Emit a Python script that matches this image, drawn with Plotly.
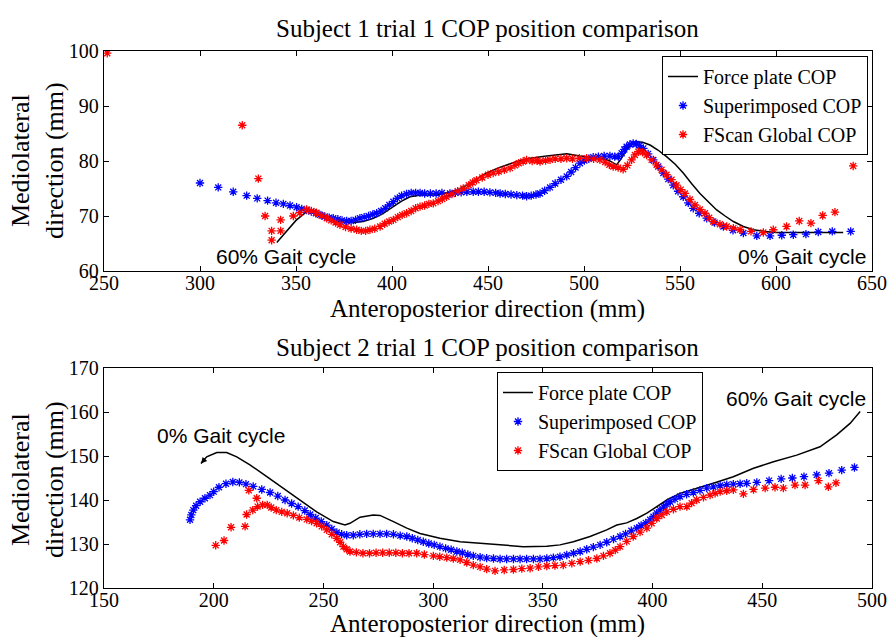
import plotly.graph_objects as go

# ---------------- Subject 1 data ----------------
s1_fp_x = [340, 345, 350, 355.5, 358.5, 361.6, 365, 369.4, 374, 379.8, 385, 390.3, 395, 400.7, 405, 409.4, 415, 421.5,
           427, 433.7, 440, 447.6, 455, 464.9, 472, 480.6, 486, 491, 497.9, 503, 508.3, 513, 517, 519.5, 522.2, 524.8,
           527.4, 530.5, 534.4, 538.5, 543, 547.5, 551.7, 556, 560.4, 565, 569.1, 573.5, 577.8, 583, 588.2, 594, 600.3,
           610, 620, 628, 635]
s1_fp_y = [65.2, 67.3, 69.2, 70.8, 71.0, 70.6, 70.0, 69.3, 68.9, 68.8, 69.0, 69.6, 70.4, 71.7, 72.7, 73.5, 73.8, 73.8,
           74.1, 74.7, 75.8, 77.5, 78.7, 79.9, 80.5, 80.9, 81.1, 81.3, 80.9, 80.7, 80.5, 80.1, 79.3, 80.5, 82.0, 83.0,
           83.5, 83.4, 82.9, 82.0, 80.8, 79.4, 77.8, 75.9, 74.1, 72.5, 71.1, 70.0, 69.0, 68.1, 67.5, 67.2, 67.0,
           67.0, 67.0, 67.0, 67.0]

s1_sup_x = [300, 309.5, 317.3, 324.3, 329.8, 335.2, 339.6, 343.4, 346.9, 350.3, 353, 355.5, 358, 360.3, 362.5, 365,
            367.3, 369.4, 371.8, 374, 376.4, 378.7, 381, 383.3, 385.5, 387.8, 390, 392, 394.3, 396.5, 398.6, 400.7,
            402.8, 405, 407.6, 410, 412.3, 414.6, 417, 420, 423, 426, 430.2, 433, 436, 439, 442.3, 445, 448, 451, 454,
            456.3, 459, 462, 465, 468, 470.1, 472.5, 475, 477.1, 479.5, 482.3, 485, 488, 491, 493.3, 495.6, 497.9,
            500.2, 502.5, 504.8, 507.5, 510.5, 513.5, 516, 517.9, 519.6, 521, 522.2, 523.9, 525.6, 527.3, 529, 530.9,
            533.4, 536.1, 538.7, 541.3, 543.9, 546.5, 549, 551.7, 554.3, 556.9, 560, 563.9, 568, 572.6, 577.6, 583,
            590, 596.9, 603, 609, 615.6, 622, 629.3, 638.9]
s1_sup_y = [76.0, 75.2, 74.4, 73.7, 73.2, 72.8, 72.4, 72.2, 71.9, 71.6, 71.3, 71.1, 70.8, 70.5, 70.2, 69.9,
            69.7, 69.6, 69.4, 69.2, 69.1, 69.1, 69.3, 69.6, 69.8, 70.0, 70.3, 70.5, 70.9, 71.4, 72.0, 72.6,
            73.2, 73.7, 74.0, 74.2, 74.2, 74.2, 74.1, 74.1, 74.1, 74.2, 74.1, 74.2, 74.3, 74.4, 74.4, 74.4, 74.4, 74.3, 74.2,
            74.1, 74.0, 73.9, 73.8, 73.7, 73.6, 73.7, 73.9, 74.1, 74.6, 75.2, 75.9, 76.6, 77.2, 78.0, 78.8, 79.6,
            80.1, 80.4, 80.7, 80.8, 80.9, 80.9, 80.8, 80.8, 81.4, 82.1, 82.6, 83.0, 83.2, 83.1, 82.8, 82.3,
            81.3, 80.2, 79.0, 77.8, 76.7, 75.6, 74.5, 73.5, 72.4, 71.4, 70.5, 69.6, 68.8, 68.1, 67.4, 66.9,
            66.4, 66.4, 66.5, 66.6, 66.7, 67.1, 67.2, 67.2]

s1_fs_x = [251.7, 322, 330.4, 333.9, 337.3, 337.3, 342, 342, 348.6, 352, 355.5, 358, 360.7, 363.3, 366, 368.3, 370.6,
           372.9, 375.8, 378.7, 381.6, 384, 386.3, 388.5, 391, 393.8, 396.2, 398.5, 400.7, 403, 405.3, 407.6, 410,
           412.3, 414.6, 417, 419.2, 421.5, 424, 426.2, 428.4, 431.2, 434.2, 437.1, 440, 442, 444, 447, 450, 452.7,
           455.6, 458.5, 461.5, 464, 466, 468.3, 470.1, 473, 475.5, 477.1, 480, 482.3, 485, 488, 491, 494, 497.6,
           501.4, 505, 508.3, 511, 513.2, 515.2, 517.8, 520.4, 522.6, 524.8, 526.5, 528.3, 530.5, 532.6, 535.2, 537.8,
           540.4, 543, 545.6, 548.2, 550.4, 552.6, 555.2, 557.8, 560.4, 563, 565.2, 567.3, 570.8, 574.3, 577.8, 581.3,
           587, 593.4, 598.6, 605.5, 612.1, 618.2, 624.3, 630.7, 640.2]
s1_fs_y = [99.6, 86.5, 76.8, 70.0, 67.3, 65.6, 67.3, 69.3, 70.0, 70.6, 71.2, 70.9, 70.6, 70.1, 69.6, 69.2, 68.8,
           68.4, 68.0, 67.7, 67.5, 67.3, 67.3, 67.5, 67.7, 68.1, 68.6, 69.0, 69.3, 69.8, 70.2, 70.5, 70.9,
           71.4, 71.7, 71.9, 72.2, 72.3, 72.7, 73.1, 73.5, 74.0, 74.5, 75.0, 75.6, 76.1, 76.5, 77.0, 77.5, 77.8,
           78.1, 78.4, 78.7, 79.2, 79.6, 79.9, 80.2, 80.0, 80.1, 79.9, 80.1, 80.2, 80.4, 80.4, 80.5, 80.4, 80.5,
           80.5, 80.4, 80.2, 79.8, 79.3, 79.0, 78.8, 78.5, 79.2, 80.2, 81.1, 81.7, 81.6, 81.1, 80.2, 79.3,
           78.4, 77.5, 76.6, 75.6, 74.8, 74.1, 73.0, 72.0, 71.2, 70.5, 69.7, 69.0, 68.5, 68.1, 67.8, 67.5,
           67.2, 67.0, 67.5, 68.1, 69.1, 68.7, 70.1, 70.7, 79.1]

# ---------------- Subject 2 data ----------------
s2_fp_x = [194.2, 196.8, 201.4, 205.9, 210.5, 216.5, 224.2, 231.7, 239.3, 246.9, 254.5, 259.8, 262.1, 266.7, 272.7,
           275.8, 281.9, 288, 294, 303.1, 312.3, 321.4, 330.5, 341.1, 351.8, 357.8, 363.9, 371.5, 379.1, 383.7, 388.2,
           392.8, 397.4, 401.9, 406.5, 412.5, 418.6, 427.7, 436.8, 446, 455.1, 465.7, 476.3, 483.9, 490, 494.6]
s2_fp_y = [148.3, 149.8, 150.8, 150.8, 149.8, 148.0, 145.3, 142.7, 140.0, 137.3, 135.1, 134.3, 134.7, 136.1, 136.6,
           136.5, 135.1, 133.6, 132.4, 131.3, 130.5, 130.1, 129.8, 129.4, 129.5, 129.8, 130.5, 131.7, 133.2, 134.3, 134.8,
           135.8, 137.0, 138.5, 140.0, 141.5, 142.4, 143.8, 145.3, 147.2, 148.7, 150.2, 152.1, 154.8, 157.4, 160.1]

s2_sup_x = [189.2, 189.8, 190.7, 192, 193.8, 196, 198.3, 200, 202.4, 205.6, 208.7, 211.7, 214.7, 218, 221.9, 225.7,
            229.2, 232.5, 235.5, 238.5, 241.5, 244, 246.5, 249, 251.5, 253.8, 256.1, 258.3, 260.6, 263.6, 266.6, 269.7,
            272.7, 275.8, 278.8, 281.9, 285, 288, 290.5, 293, 295.5, 298, 300.5, 303.1, 305.7, 308.2, 310.8, 313.3,
            315.8, 318.3, 321.4, 324.4, 327.5, 330.5, 333.5, 336.6, 339.6, 342.6, 345.7, 348.7, 351.8, 354.8, 357.8,
            360.9, 364, 367, 370, 373, 376.1, 379.1, 382.2, 385.2, 387.7, 390.3, 392.8, 394.8, 396.9, 398.9, 400.4,
            401.9, 403.4, 405, 406.5, 408, 410.2, 412.5, 415.5, 418.6, 421.6, 424.7, 427.7, 430.8, 433.8, 436.8,
            439.9, 442.9, 447.5, 453.1, 458.6, 463.7, 469, 474.8, 480.4, 486.2, 492]
s2_sup_y = [135.5, 136.6, 137.7, 138.7, 139.6, 140.4, 141.1, 141.9, 142.9, 143.7, 144.1, 144.0, 143.6, 143.1, 142.4, 141.7,
            140.9, 140.0, 139.2, 138.5, 137.6, 136.7, 135.9, 135.1, 134.3, 133.4, 132.6, 132.2, 132.0, 132.0, 132.2, 132.3,
            132.3, 132.3, 132.3, 132.2, 131.9, 131.7, 131.3, 130.9, 130.5, 130.1, 129.8, 129.4, 129.0, 128.7, 128.3, 128.0,
            127.6, 127.3, 127.0, 126.8, 126.7, 126.6, 126.6, 126.6, 126.6, 126.6, 126.6, 126.6, 126.7, 126.9, 127.1,
            127.5, 127.9, 128.3, 128.8, 129.3, 129.8, 130.4, 131.1, 131.7, 132.3, 133.0, 133.6, 134.2, 134.8, 135.5, 136.2,
            137.0, 137.7, 138.4, 139.0, 139.6, 140.2, 140.8, 141.3, 141.7, 142.2, 142.7, 143.0, 143.3, 143.5, 143.6,
            143.7, 143.8, 144.0, 144.4, 144.8, 145.0, 145.3, 145.7, 146.1, 146.8, 147.4]

s2_fs_x = [200.9, 204.7, 207.9, 214.3, 215, 216, 217.8, 219.6, 220, 222.3, 224.4, 226.2, 228.5, 231, 233.5, 236.3, 239,
           242.4, 244.6, 246.9, 249.2, 251.5, 253.8, 256.1, 257.6, 259.1, 260.6, 262.1, 265, 268, 271, 274, 277, 280,
           283, 286, 289, 292.5, 296, 300.1, 303, 306.2, 309.2, 312.3, 315.3, 318.3, 321.4, 324.4, 328.2, 332.4, 336.6,
           340.4, 344.2, 348, 351.8, 355.5, 359.3, 363.2, 367, 370.8, 374.6, 377.6, 380.6, 383, 385.2, 388.2, 391.2,
           394.3, 397.4, 399.6, 401.9, 404.2, 406.5, 409.5, 412.5, 415.6, 417.8, 420.1, 423.2, 426.2, 428.5, 430.8,
           433.8, 436.8, 441.4, 446, 451.3, 455.8, 459.6, 464.9, 469.5, 475.6, 480.1, 483.6]
s2_fs_y = [129.7, 130.8, 133.8, 134.0, 136.7, 142.2, 137.7, 140.4, 138.5, 138.9, 138.9, 138.3, 137.7, 137.3, 137.0, 136.5, 136.0,
           135.6, 135.2, 134.7, 134.0, 133.2, 132.2, 131.3, 130.4, 129.4, 128.8, 128.3, 128.1, 127.9, 127.9, 128.0, 128.0, 128.0,
           128.0, 127.9, 127.9, 127.9, 127.6, 127.3, 127.1, 126.9, 126.7, 126.4, 125.8, 125.2, 124.8, 124.3, 123.9, 124.1, 124.2,
           124.4, 124.5, 124.8, 125.0, 125.1, 125.2, 125.6, 126.0, 126.3, 126.7, 127.3, 127.9, 128.6, 129.4, 130.6, 131.7,
           132.7, 133.6, 134.7, 135.8, 136.6, 137.3, 137.9, 138.5, 138.5, 139.3, 140.0, 140.6, 141.1, 141.5, 141.9,
           142.1, 142.3, 141.4, 142.4, 142.7, 142.9, 142.7, 143.4, 143.4, 144.4, 143.0, 143.9]

titles = ["Subject 1 trial 1 COP position comparison", "Subject 2 trial 1 COP position comparison"]
x_title = "Anteroposterior direction (mm)"
y_title = "Mediolateral<br>direction (mm)"
names = ["Force plate COP", "Superimposed COP", "FScan Global COP"]

SERIF = "Liberation Serif, Times New Roman, serif"
SANS = "Liberation Sans, Arial, sans-serif"
W, H = 891, 637

fig = go.Figure()

def add_set(fp_x, fp_y, sp_x, sp_y, fs_x, fs_y, xa, ya, leg):
    fig.add_trace(go.Scatter(x=fp_x, y=fp_y, mode="lines", name=names[0],
                             line=dict(color="black", width=1.5), xaxis=xa, yaxis=ya, legend=leg))
    fig.add_trace(go.Scatter(x=sp_x, y=sp_y, mode="markers", name=names[1],
                             marker=dict(symbol="asterisk-open", size=7, color="blue",
                                         line=dict(color="rgb(0,0,255)", width=1.3)),
                             xaxis=xa, yaxis=ya, legend=leg))
    fig.add_trace(go.Scatter(x=fs_x, y=fs_y, mode="markers", name=names[2],
                             marker=dict(symbol="asterisk-open", size=7, color="red",
                                         line=dict(color="rgb(255,0,0)", width=1.3)),
                             xaxis=xa, yaxis=ya, legend=leg))

add_set(s1_fp_x, s1_fp_y, s1_sup_x, s1_sup_y, s1_fs_x, s1_fs_y, "x", "y", "legend")
add_set(s2_fp_x, s2_fp_y, s2_sup_x, s2_sup_y, s2_fs_x, s2_fs_y, "x2", "y2", "legend2")

def px(v):
    return v / W

def py(v):
    return 1 - v / H

axis_common = dict(showline=True, linecolor="black", linewidth=1.3, mirror="ticks", ticks="inside",
                   ticklen=5, tickcolor="black", showgrid=False, zeroline=False, automargin=False,
                   tickfont=dict(family=SERIF, size=20, color="black"))

x_dom = [px(104), px(872)]
fig.update_layout(
    width=W, height=H, margin=dict(l=0, r=0, t=0, b=0, autoexpand=False),
    paper_bgcolor="white", plot_bgcolor="white",
    xaxis=dict(domain=x_dom, range=[250, 650], dtick=50, anchor="y", ticklabelstandoff=-6, **axis_common),
    yaxis=dict(domain=[py(271), py(51)], range=[60, 100], dtick=10, anchor="x", **axis_common),
    xaxis2=dict(domain=x_dom, range=[150, 500], dtick=50, anchor="y2", ticklabelstandoff=-6, **axis_common),
    yaxis2=dict(domain=[py(588), py(368)], range=[120, 170], dtick=10, anchor="x2", **axis_common),
    legend=dict(x=px(868), y=py(56), xanchor="right", yanchor="top", bgcolor="white",
                bordercolor="black", borderwidth=1, font=dict(family=SERIF, size=20, color="black"),
                tracegroupgap=0, itemwidth=30),
    legend2=dict(x=px(497), y=py(372), xanchor="left", yanchor="top", bgcolor="white",
                 bordercolor="black", borderwidth=1, font=dict(family=SERIF, size=20, color="black"),
                 tracegroupgap=0, itemwidth=30),
    showlegend=True,
)

ann = []
# plot titles
ann.append(dict(text=titles[0], x=px(488), y=py(29), xref="paper", yref="paper", showarrow=False,
                xanchor="center", yanchor="middle", font=dict(family=SERIF, size=25, color="black")))
ann.append(dict(text=titles[1], x=px(488), y=py(347), xref="paper", yref="paper", showarrow=False,
                xanchor="center", yanchor="middle", font=dict(family=SERIF, size=25, color="black")))
# x axis titles
ann.append(dict(text=x_title, x=px(488), y=py(309), xref="paper", yref="paper", showarrow=False,
                xanchor="center", yanchor="middle", font=dict(family=SERIF, size=25, color="black")))
ann.append(dict(text=x_title, x=px(488), y=py(624), xref="paper", yref="paper", showarrow=False,
                xanchor="center", yanchor="middle", font=dict(family=SERIF, size=25, color="black")))
# y axis titles
ann.append(dict(text=y_title, x=px(37), y=py(161), xref="paper", yref="paper", showarrow=False,
                textangle=-90, xanchor="center", yanchor="middle", font=dict(family=SERIF, size=26, color="black")))
ann.append(dict(text=y_title, x=px(37), y=py(480), xref="paper", yref="paper", showarrow=False,
                textangle=-90, xanchor="center", yanchor="middle", font=dict(family=SERIF, size=26, color="black")))
# gait cycle labels
ann.append(dict(text="60% Gait cycle", x=344.8, y=62.7, xref="x", yref="y", showarrow=False,
                font=dict(family=SANS, size=21, color="black")))
ann.append(dict(text="0% Gait cycle", x=613.5, y=62.6, xref="x", yref="y", showarrow=False,
                font=dict(family=SANS, size=21, color="black")))
ann.append(dict(text="0% Gait cycle", x=203.3, y=154.7, xref="x2", yref="y2", showarrow=False,
                font=dict(family=SANS, size=21, color="black")))
ann.append(dict(text="60% Gait cycle", x=465.5, y=163.1, xref="x2", yref="y2", showarrow=False,
                font=dict(family=SANS, size=21, color="black")))
# small arrow head at start of subject-2 force plate path
ann.append(dict(text="", x=s2_fp_x[0], y=s2_fp_y[0], xref="x2", yref="y2", ax=s2_fp_x[1], ay=s2_fp_y[1],
                axref="x2", ayref="y2", showarrow=True, arrowhead=2, arrowsize=1, arrowwidth=1.2,
                arrowcolor="black"))
fig.update_layout(annotations=ann)

fig.write_html("out.html")
